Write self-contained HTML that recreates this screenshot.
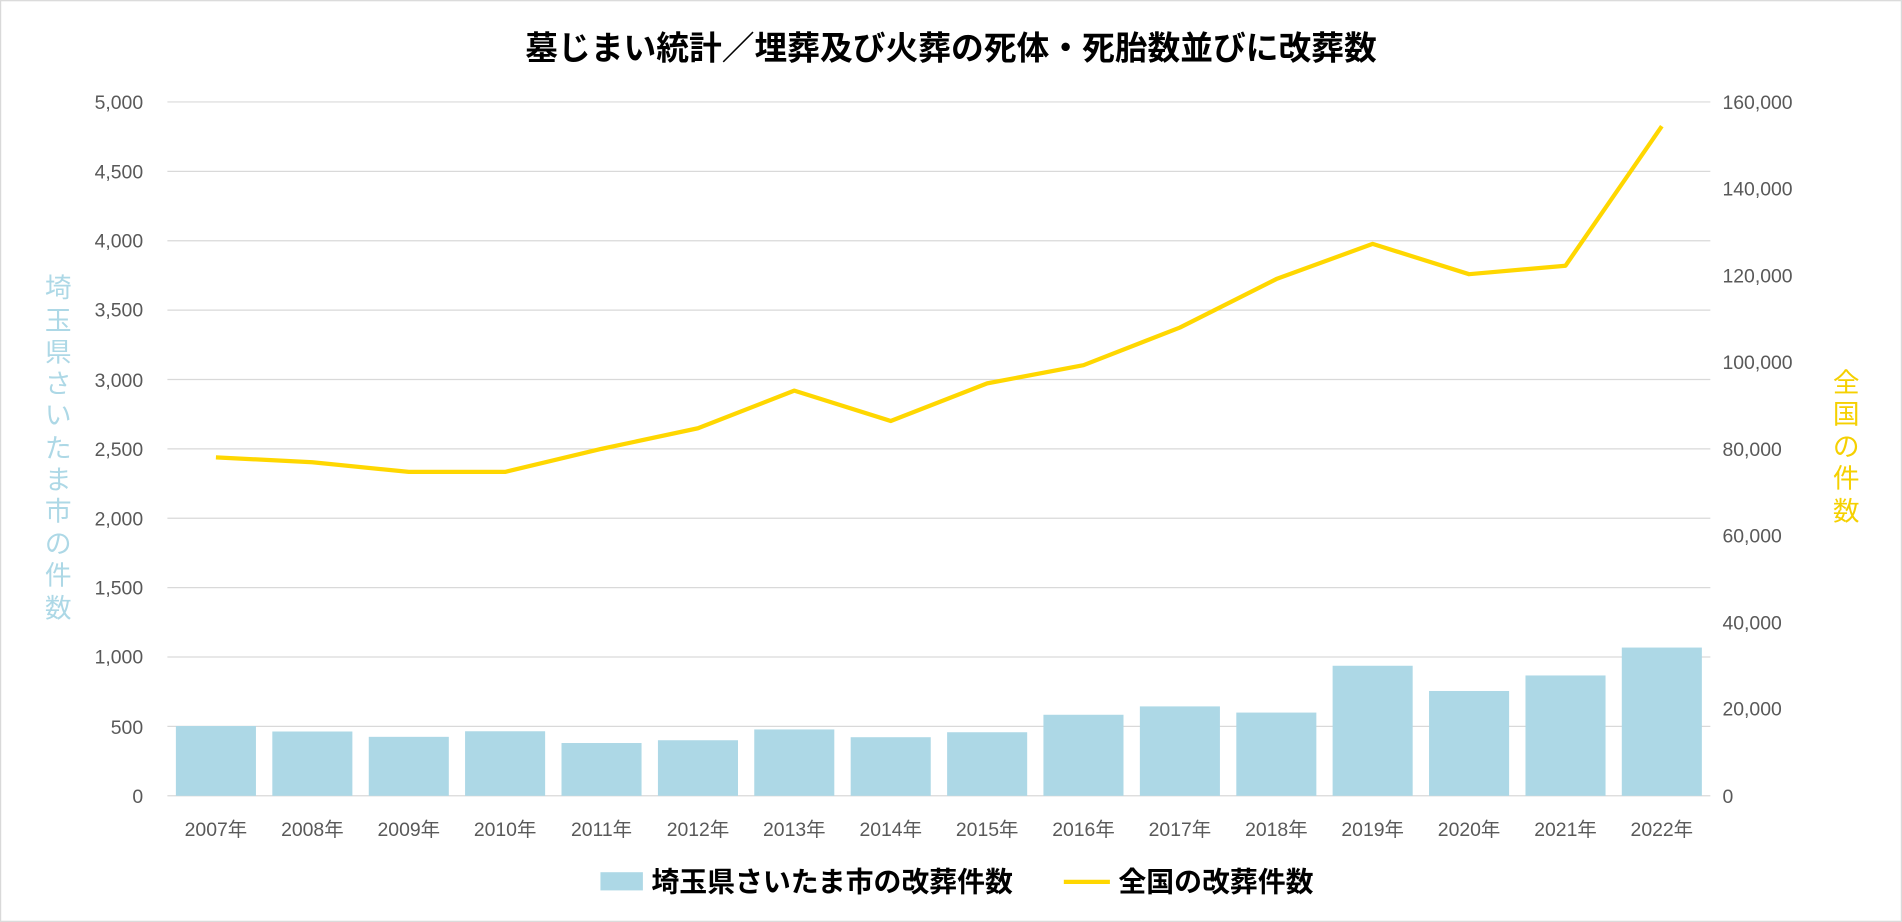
<!DOCTYPE html>
<html><head><meta charset="utf-8"><style>
html,body{margin:0;padding:0;background:#fff;}
svg{display:block;}
text{font-family:"Liberation Sans","Noto Sans CJK JP",sans-serif;}
</style></head><body>
<svg width="1902" height="922" viewBox="0 0 1568 760" xmlns="http://www.w3.org/2000/svg">
<rect x="0.5" y="0.5" width="1567" height="759" fill="#fff" stroke="#d9d9d9"/>
<text x="784" y="49" text-anchor="middle" font-size="27" font-weight="bold" fill="#000">墓じまい統計／埋葬及び火葬の死体・死胎数並びに改葬数</text>
<g stroke="#d9d9d9" stroke-width="1">
<line x1="138" x2="1410" y1="84" y2="84"/>
<line x1="138" x2="1410" y1="141.2" y2="141.2"/>
<line x1="138" x2="1410" y1="198.4" y2="198.4"/>
<line x1="138" x2="1410" y1="255.6" y2="255.6"/>
<line x1="138" x2="1410" y1="312.8" y2="312.8"/>
<line x1="138" x2="1410" y1="370" y2="370"/>
<line x1="138" x2="1410" y1="427.2" y2="427.2"/>
<line x1="138" x2="1410" y1="484.4" y2="484.4"/>
<line x1="138" x2="1410" y1="541.6" y2="541.6"/>
<line x1="138" x2="1410" y1="598.8" y2="598.8"/>
<line x1="138" x2="1410" y1="656" y2="656"/>
</g>
<g font-size="16" fill="#595959" text-anchor="end">
<text x="118" y="90">5,000</text><text x="118" y="147">4,500</text><text x="118" y="204">4,000</text><text x="118" y="261">3,500</text><text x="118" y="319">3,000</text><text x="118" y="376">2,500</text><text x="118" y="433">2,000</text><text x="118" y="490">1,500</text><text x="118" y="547">1,000</text><text x="118" y="605">500</text><text x="118" y="662">0</text>
</g>
<g font-size="16" fill="#595959" text-anchor="start">
<text x="1420" y="90">160,000</text><text x="1420" y="161">140,000</text><text x="1420" y="233">120,000</text><text x="1420" y="304">100,000</text><text x="1420" y="376">80,000</text><text x="1420" y="447">60,000</text><text x="1420" y="519">40,000</text><text x="1420" y="590">20,000</text><text x="1420" y="662">0</text>
</g>
<g fill="#add8e6">
<rect x="145" y="598.5" width="66" height="57.5"/>
<rect x="224.5" y="603" width="66" height="53"/>
<rect x="304" y="607.4" width="66" height="48.6"/>
<rect x="383.4" y="602.8" width="66" height="53.2"/>
<rect x="462.9" y="612.5" width="66" height="43.5"/>
<rect x="542.4" y="610.2" width="66" height="45.8"/>
<rect x="621.8" y="601.3" width="66" height="54.7"/>
<rect x="701.3" y="607.7" width="66" height="48.3"/>
<rect x="780.8" y="603.6" width="66" height="52.4"/>
<rect x="860.2" y="589.2" width="66" height="66.8"/>
<rect x="939.7" y="582.3" width="66" height="73.7"/>
<rect x="1019.2" y="587.4" width="66" height="68.6"/>
<rect x="1098.6" y="548.8" width="66" height="107.2"/>
<rect x="1178.1" y="569.6" width="66" height="86.4"/>
<rect x="1257.6" y="556.8" width="66" height="99.2"/>
<rect x="1337" y="533.8" width="66" height="122.2"/>
</g>
<polyline fill="none" stroke="#ffd700" stroke-width="3.5" stroke-linejoin="round" points="178,377 257.5,381 337,389 416.4,389 495.9,370 575.4,353 654.8,322 734.3,347 813.8,316 893.2,301 972.7,270 1052.2,230 1131.6,201 1211.1,226 1290.6,219 1370,104"/>
<g font-size="16" fill="#595959" text-anchor="middle">
<text x="178" y="689">2007年</text><text x="257.5" y="689">2008年</text><text x="337" y="689">2009年</text><text x="416.4" y="689">2010年</text><text x="495.9" y="689">2011年</text><text x="575.4" y="689">2012年</text><text x="654.8" y="689">2013年</text><text x="734.3" y="689">2014年</text><text x="813.8" y="689">2015年</text><text x="893.2" y="689">2016年</text><text x="972.7" y="689">2017年</text><text x="1052.2" y="689">2018年</text><text x="1131.6" y="689">2019年</text><text x="1211.1" y="689">2020年</text><text x="1290.6" y="689">2021年</text><text x="1370" y="689">2022年</text>
</g>
<g font-size="22" fill="#add8e6" text-anchor="middle">
<text x="48" y="245">埼</text><text x="48" y="272">玉</text><text x="48" y="298">県</text><text x="48" y="324">さ</text><text x="48" y="350">い</text><text x="48" y="377">た</text><text x="48" y="403">ま</text><text x="48" y="429">市</text><text x="48" y="456">の</text><text x="48" y="482">件</text><text x="48" y="509">数</text>
</g>
<g font-size="22" fill="#f5d000" text-anchor="middle">
<text x="1522" y="323">全</text><text x="1522" y="349">国</text><text x="1522" y="376">の</text><text x="1522" y="402">件</text><text x="1522" y="429">数</text>
</g>
<rect x="495" y="719" width="35" height="15" fill="#add8e6"/>
<text x="537" y="735" font-size="23" font-weight="bold" fill="#000">埼玉県さいたま市の改葬件数</text>
<line x1="877" x2="915" y1="727" y2="727" stroke="#ffd700" stroke-width="3.5"/>
<text x="922" y="735" font-size="23" font-weight="bold" fill="#000">全国の改葬件数</text>
</svg>
</body></html>
